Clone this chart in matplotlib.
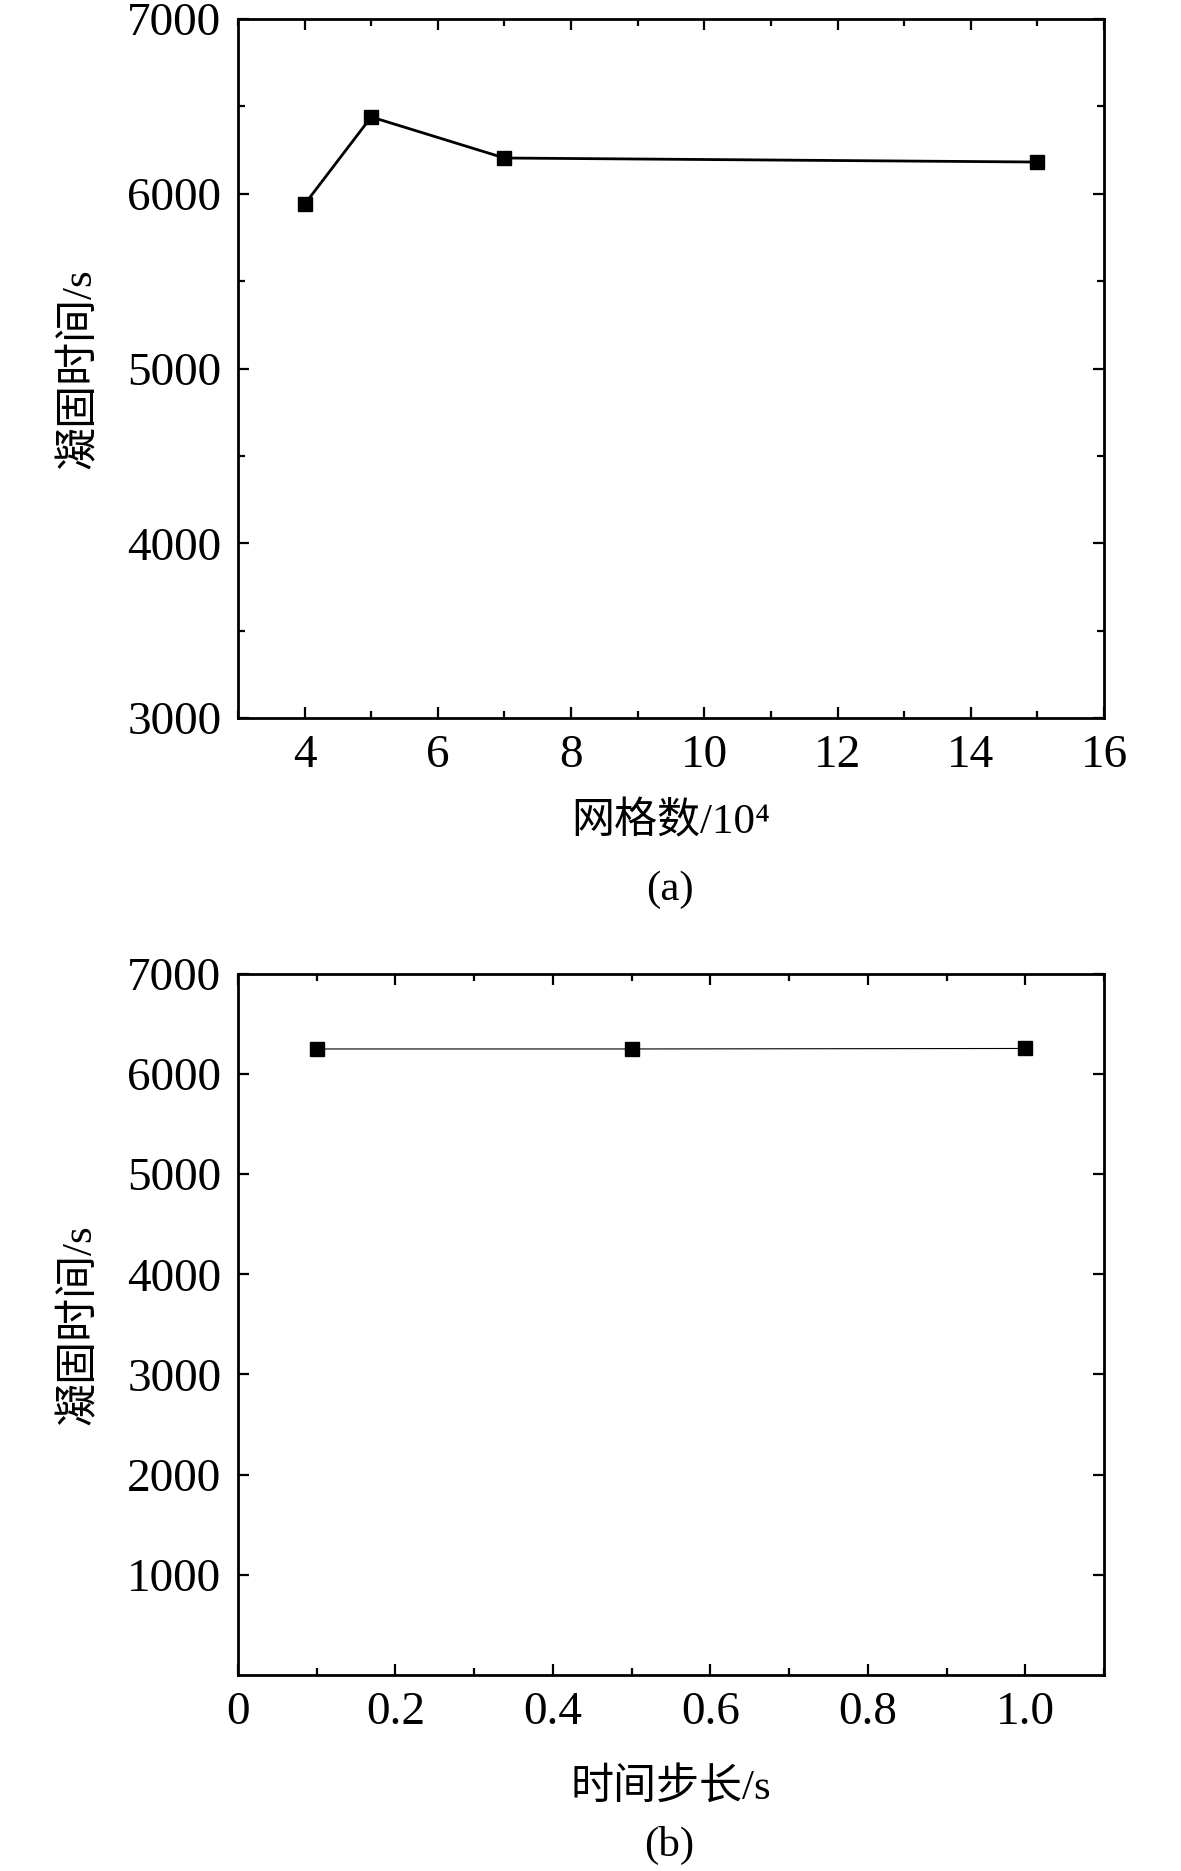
import matplotlib
matplotlib.use("Agg")
import matplotlib.pyplot as plt
from matplotlib.ticker import MultipleLocator

plt.rcParams['font.family'] = ['Liberation Serif', 'Noto Sans CJK SC']

# (a) 网格无关性
grid_num = [4, 5, 7, 15]
solid_time_a = [5940, 6440, 6205, 6182]

# (b) 时间步长无关性
time_step = [0.1, 0.5, 1.0]
solid_time_b = [6250, 6250, 6255]

xticks_b = [0, 0.2, 0.4, 0.6, 0.8, 1.0]
xtick_labels_b = ['0', '0.2', '0.4', '0.6', '0.8', '1.0']

fs_tick = 34
fs_label = 31

fig = plt.figure(figsize=(11.81, 18.71), dpi=100)


def style(ax):
    for sp in ax.spines.values():
        sp.set_linewidth(2.0)
    ax.tick_params(which='both', direction='in', top=True, right=True,
                   labelsize=fs_tick, pad=12)
    ax.tick_params(which='major', length=8, width=1.6)
    ax.tick_params(which='minor', length=5, width=1.6)


ax1 = fig.add_axes([0.2015, 0.6162, 0.7333, 0.3736])
ax1.plot(grid_num, solid_time_a, color='black', lw=2.0, marker='s', ms=10.5)
ax1.set_xlim(3, 16)
ax1.set_ylim(3000, 7000)
ax1.xaxis.set_major_locator(MultipleLocator(2))
ax1.xaxis.set_minor_locator(MultipleLocator(1))
ax1.yaxis.set_major_locator(MultipleLocator(1000))
ax1.yaxis.set_minor_locator(MultipleLocator(500))
style(ax1)
ax1.set_xlabel('网格数/10⁴', fontsize=fs_label, labelpad=18)
ax1.set_ylabel('凝固时间/s', fontsize=fs_label, labelpad=20)
fig.text(0.567, 1 - 890 / 1871, '(a)', fontsize=fs_label, ha='center', va='center')

ax2 = fig.add_axes([0.2015, 0.1048, 0.7333, 0.3747])
ax2.plot(time_step, solid_time_b, color='black', lw=0.8, marker='s', ms=10.5)
ax2.set_xlim(0, 1.1)
ax2.set_ylim(0, 7000)
ax2.set_xticks(xticks_b)
ax2.set_xticklabels(xtick_labels_b)
ax2.xaxis.set_minor_locator(MultipleLocator(0.1))
ax2.set_yticks([1000, 2000, 3000, 4000, 5000, 6000, 7000])
style(ax2)
ax2.set_xlabel('时间步长/s', fontsize=fs_label, labelpad=24)
ax2.set_ylabel('凝固时间/s', fontsize=fs_label, labelpad=20)
fig.text(0.567, 1 - 1845 / 1871, '(b)', fontsize=fs_label, ha='center', va='center')

fig.savefig('out.png', dpi=100)
